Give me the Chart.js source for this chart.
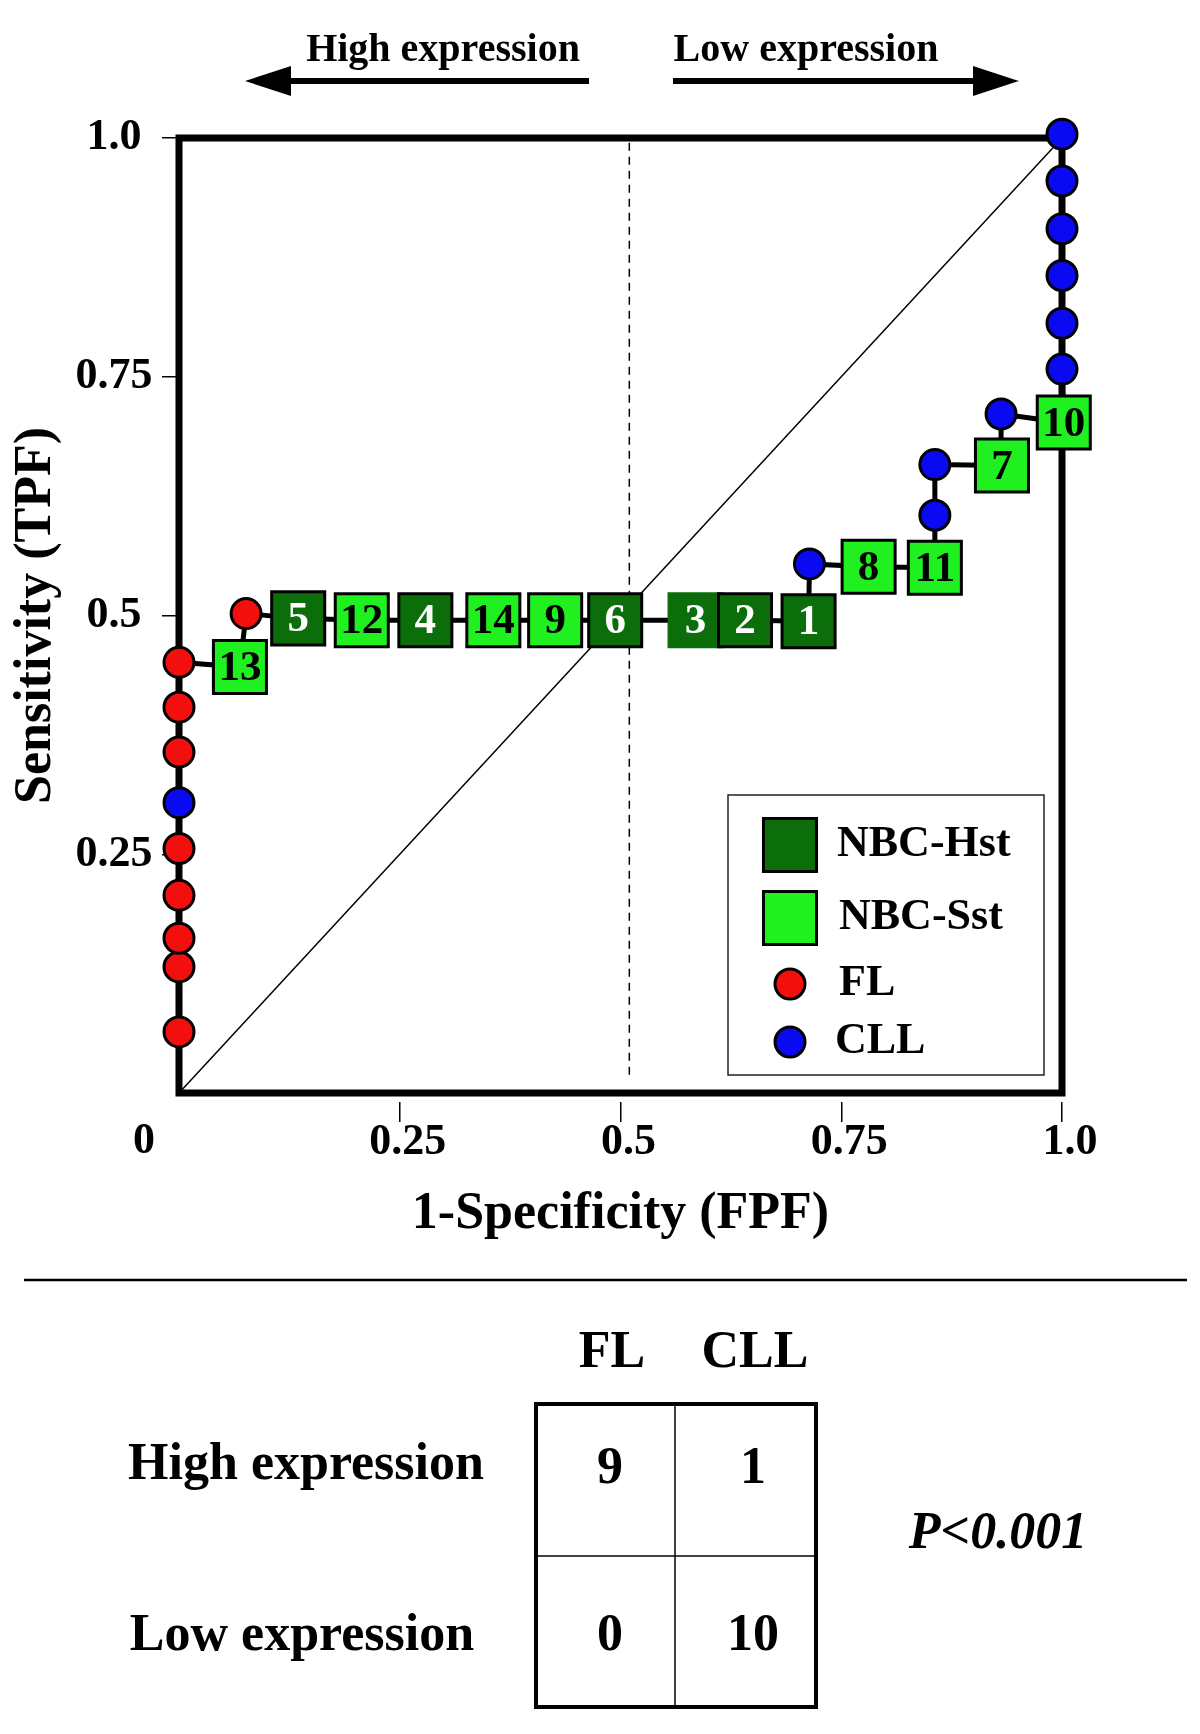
<!DOCTYPE html>
<html><head><meta charset="utf-8">
<script src="https://cdn.jsdelivr.net/npm/chart.js@4/dist/chart.umd.min.js"></script>
<style>
html,body{margin:0;padding:0;background:#fff;}
#wrap{position:relative;width:1200px;height:1734px;overflow:hidden;}
#c{position:absolute;left:0;top:0;}
#ann{position:absolute;left:0;top:0;}
#ann text{font-family:"Liberation Serif","Times New Roman",serif;font-weight:bold;fill:#000;}
</style></head><body>
<div id="wrap">
<canvas id="c" width="1200" height="1243"></canvas>
<svg id="ann" width="1200" height="1734" xmlns="http://www.w3.org/2000/svg"></svg>
</div>
<script>
// ---------------- data ----------------
const xTickValues = [0.25, 0.5, 0.75, 1.0];
const xTickLabels = ['0.25', '0.5', '0.75', '1.0'];
const yTickValues = [0.25, 0.5, 0.75, 1.0];
const yTickLabels = ['0.25', '0.5', '0.75', '1.0'];
const originLabel = '0';
const xTitle = '1-Specificity (FPF)';
const yTitle = 'Sensitivity (TPF)';

// NBC-Hst (dark green squares)
const hstLabels = ['5', '4', '6', '3', '2', '1'];
const hstFPF = [0.135, 0.279, 0.494, 0.585, 0.641, 0.713];
const hstTPF = [0.497, 0.495, 0.495, 0.495, 0.495, 0.494];

// NBC-Sst (light green squares)
const sstLabels = ['13', '12', '14', '9', '8', '11', '7', '10'];
const sstFPF = [0.069, 0.207, 0.356, 0.426, 0.781, 0.856, 0.932, 1.002];
const sstTPF = [0.446, 0.495, 0.495, 0.495, 0.551, 0.550, 0.657, 0.702];

// FL (red circles)
const flFPF = [0, 0, 0, 0, 0, 0, 0, 0, 0.076];
const flTPF = [0.064, 0.132, 0.162, 0.207, 0.256, 0.357, 0.404, 0.451, 0.502];

// CLL (blue circles)
const cllFPF = [0, 0.714, 0.856, 0.856, 0.931, 1, 1, 1, 1, 1, 1];
const cllTPF = [0.304, 0.554, 0.605, 0.658, 0.711, 0.758, 0.806, 0.856, 0.905, 0.955, 1.004];

// order in which the ROC step line visits the samples
const pathOrder = ['F0','F1','F2','F3','F4','C0','F5','F6','F7','S0','F8','H0','S1','H1','S2','S3','H2','H3','H4','H5','C1','S4','S5','C2','C3','S6','C4','S7','C5','C6','C7','C8','C9','C10'];

// reference lines
const chanceFPF = [0, 1];
const chanceTPF = [0, 1];
const cutoffFPF = [0.51, 0.51];
const cutoffTPF = [0.019, 1.0];

const seriesNames = ['NBC-Hst', 'NBC-Sst', 'FL', 'CLL'];

// contingency table
const directionLabels = ['High expression', 'Low expression'];
const tableCols = ['FL', 'CLL'];
const tableRows = ['High expression', 'Low expression'];
const tableCounts = [[9, 1], [0, 10]];
const pValueText = 'P<0.001';

// ---------------- build ----------------
const SERIF = '"Liberation Serif","Times New Roman",serif';
const HST = '#0b6e0b', SST = '#20f020', RED = '#f40f0f', BLUE = '#0a0af2';
const zip = (xs, ys) => xs.map((x, i) => ({x: x, y: ys[i]}));
const groups = {F: [flFPF, flTPF], C: [cllFPF, cllTPF], H: [hstFPF, hstTPF], S: [sstFPF, sstTPF]};
const pathPoints = pathOrder.map(k => { const g = groups[k[0]]; const i = +k.slice(1); return {x: g[0][i], y: g[1][i]}; });

const SQ_R = 37.5, CI_R = 15;

const frameAndLabels = {
  id: 'frameAndLabels',
  beforeDatasetsDraw(chart) {
    const {ctx, chartArea: a} = chart;
    ctx.save();
    ctx.strokeStyle = '#000'; ctx.lineWidth = 7;
    ctx.strokeRect(a.left, a.top, a.right - a.left, a.bottom - a.top);
    ctx.restore();
  },
  afterDatasetsDraw(chart) {
    const {ctx} = chart;
    ctx.save();
    ctx.font = 'bold 43px ' + SERIF;
    ctx.textAlign = 'center'; ctx.textBaseline = 'middle';
    [[1, hstLabels, '#fff'], [2, sstLabels, '#000']].forEach(([di, labels, col]) => {
      chart.getDatasetMeta(di).data.forEach((el, j) => {
        ctx.fillStyle = col;
        ctx.fillText(labels[j], el.x, el.y + 2);
      });
    });
    // origin label shared by both axes
    const xs = chart.scales.x;
    ctx.font = 'bold 44px ' + SERIF;
    ctx.fillStyle = '#000';
    ctx.fillText(originLabel, xs.getPixelForValue(0) - 35, chart.chartArea.bottom + 49);
    ctx.restore();
  },
  afterDraw(chart) {
    const {ctx, chartArea: a} = chart;
    const bx = a.right - 334, by = a.bottom - 298, bw = 316, bh = 280;
    ctx.save();
    ctx.fillStyle = '#fff';
    ctx.fillRect(bx, by, bw, bh);
    ctx.strokeStyle = '#222'; ctx.lineWidth = 1.5;
    ctx.strokeRect(bx, by, bw, bh);
    const rowsY = [50, 123, 189, 247];
    const textDx = [109, 111, 111, 107];
    [1, 2, 3, 4].forEach((di, k) => {
      const ds = chart.data.datasets[di];
      const x = bx + 62, y = by + rowsY[k];
      ctx.fillStyle = ds.pointBackgroundColor;
      ctx.strokeStyle = '#000';
      ctx.lineWidth = ds.pointBorderWidth;
      const opts = {pointStyle: ds.pointStyle, radius: ds.pointRadius, borderWidth: ds.pointBorderWidth, rotation: 0};
      if (Chart.helpers && Chart.helpers.drawPoint) {
        Chart.helpers.drawPoint(ctx, opts, x, y);
      } else {
        ctx.beginPath();
        if (ds.pointStyle === 'rect') { const s = Math.SQRT1_2 * ds.pointRadius; ctx.rect(x - s, y - s, 2 * s, 2 * s); }
        else ctx.arc(x, y, ds.pointRadius, 0, Math.PI * 2);
        ctx.fill(); ctx.stroke();
      }
      ctx.fillStyle = '#000';
      ctx.font = 'bold 44px ' + SERIF;
      ctx.textAlign = 'left'; ctx.textBaseline = 'middle';
      ctx.fillText(ds.label, bx + textDx[k], y);
    });
    ctx.restore();
  }
};

new Chart(document.getElementById('c'), {
  type: 'scatter',
  data: {
    datasets: [
      {label: 'ROC path', data: pathPoints, showLine: true, borderColor: '#000', borderWidth: 5,
       pointRadius: 0, order: 5, clip: false},
      {label: seriesNames[0], data: zip(hstFPF, hstTPF), pointStyle: 'rect', pointRadius: SQ_R,
       pointBackgroundColor: HST, backgroundColor: HST,
       pointBorderColor: c => hstLabels[c.dataIndex] === '3' ? HST : '#000',
       pointBorderWidth: 3, order: 1, clip: false},
      {label: seriesNames[1], data: zip(sstFPF, sstTPF), pointStyle: 'rect', pointRadius: SQ_R,
       pointBackgroundColor: SST, backgroundColor: SST, pointBorderColor: '#000', pointBorderWidth: 3, order: 1, clip: false},
      {label: seriesNames[2], data: zip(flFPF, flTPF), pointStyle: 'circle', pointRadius: CI_R,
       pointBackgroundColor: RED, backgroundColor: RED, pointBorderColor: '#000', pointBorderWidth: 3, order: 0, clip: false},
      {label: seriesNames[3], data: zip(cllFPF, cllTPF), pointStyle: 'circle', pointRadius: CI_R,
       pointBackgroundColor: BLUE, backgroundColor: BLUE, pointBorderColor: '#000', pointBorderWidth: 3, order: 0, clip: false},
      {label: 'Chance', data: zip(chanceFPF, chanceTPF), showLine: true, borderColor: '#000', borderWidth: 1.5,
       pointRadius: 0, order: 8, clip: false},
      {label: 'Cut-off', data: zip(cutoffFPF, cutoffTPF), showLine: true, borderColor: '#000', borderWidth: 1.5,
       borderDash: [8, 6], pointRadius: 0, order: 8, clip: false}
    ]
  },
  options: {
    responsive: false, animation: false, events: [],
    layout: {padding: {top: 138, right: 138, left: 0, bottom: 0}},
    plugins: {legend: {display: false}, tooltip: {enabled: false}},
    scales: {
      x: {
        type: 'linear', min: 0, max: 1,
        afterBuildTicks: s => { s.ticks = xTickValues.map(v => ({value: v})); },
        afterFit: s => { s.height = 150; },
        ticks: {
          callback: v => xTickLabels[xTickValues.indexOf(v)],
          font: {family: SERIF, weight: 'bold', size: 44, lineHeight: 0.8},
          color: '#000', padding: 3, labelOffset: 8, maxRotation: 0, autoSkip: false
        },
        grid: {drawOnChartArea: false, drawTicks: true, tickLength: 29, color: '#000', lineWidth: 1.5},
        border: {display: true, width: 18, color: 'rgba(0,0,0,0)'},
        title: {display: true, text: xTitle, color: '#000',
                font: {family: SERIF, weight: 'bold', size: 52, lineHeight: 1}, padding: {top: 0, bottom: 2}}
      },
      y: {
        type: 'linear', min: 0, max: 1,
        afterBuildTicks: s => { s.ticks = yTickValues.map(v => ({value: v})); },
        afterFit: s => { s.width = 179; },
        ticks: {
          callback: v => yTickLabels[yTickValues.indexOf(v)],
          font: {family: SERIF, weight: 'bold', size: 44, lineHeight: 1},
          color: '#000', padding: 9.5, crossAlign: 'center', autoSkip: false
        },
        grid: {drawOnChartArea: false, drawTicks: true, tickLength: 17, color: '#000', lineWidth: 1.5},
        border: {display: false},
        title: {display: true, text: yTitle, color: '#000',
                font: {family: SERIF, weight: 'bold', size: 52, lineHeight: 1}, padding: {top: 11, bottom: 0}}
      }
    }
  },
  plugins: [frameAndLabels]
});

// ---------------- annotations (header arrows, contingency table) ----------------
const svg = document.getElementById('ann');
const NS = 'http://www.w3.org/2000/svg';
function el(tag, attrs, text) {
  const e = document.createElementNS(NS, tag);
  for (const k in attrs) e.setAttribute(k, attrs[k]);
  if (text !== undefined) e.textContent = text;
  svg.appendChild(e);
  return e;
}
// header
el('text', {x: 443, y: 61, 'text-anchor': 'middle', 'font-size': 40}, directionLabels[0]);
el('text', {x: 806, y: 61, 'text-anchor': 'middle', 'font-size': 40}, directionLabels[1]);
el('line', {x1: 288, y1: 81, x2: 589, y2: 81, stroke: '#000', 'stroke-width': 6});
el('polygon', {points: '245,81 291,66 291,96', fill: '#000'});
el('line', {x1: 673, y1: 81, x2: 976, y2: 81, stroke: '#000', 'stroke-width': 6});
el('polygon', {points: '1019,81 973,66 973,96', fill: '#000'});
// separator
el('line', {x1: 24, y1: 1280, x2: 1187, y2: 1280, stroke: '#000', 'stroke-width': 2.5});
// table
const colX = [610, 753];
const rowBase = [1483, 1650];
tableCols.forEach((c, j) => el('text', {x: [612, 755][j], y: 1367, 'text-anchor': 'middle', 'font-size': 52}, c));
tableRows.forEach((r, i) => el('text', {x: [306, 302][i], y: [1479, 1650][i], 'text-anchor': 'middle', 'font-size': 52}, r));
el('rect', {x: 536, y: 1404, width: 280, height: 303, fill: 'none', stroke: '#000', 'stroke-width': 4});
el('line', {x1: 675, y1: 1404, x2: 675, y2: 1707, stroke: '#000', 'stroke-width': 1.5});
el('line', {x1: 536, y1: 1556, x2: 816, y2: 1556, stroke: '#000', 'stroke-width': 1.5});
tableCounts.forEach((row, i) => row.forEach((v, j) =>
  el('text', {x: colX[j], y: rowBase[i], 'text-anchor': 'middle', 'font-size': 52}, String(v))));
el('text', {x: 998, y: 1548, 'text-anchor': 'middle', 'font-size': 52, 'font-style': 'italic'}, pValueText);
</script>
</body></html>
